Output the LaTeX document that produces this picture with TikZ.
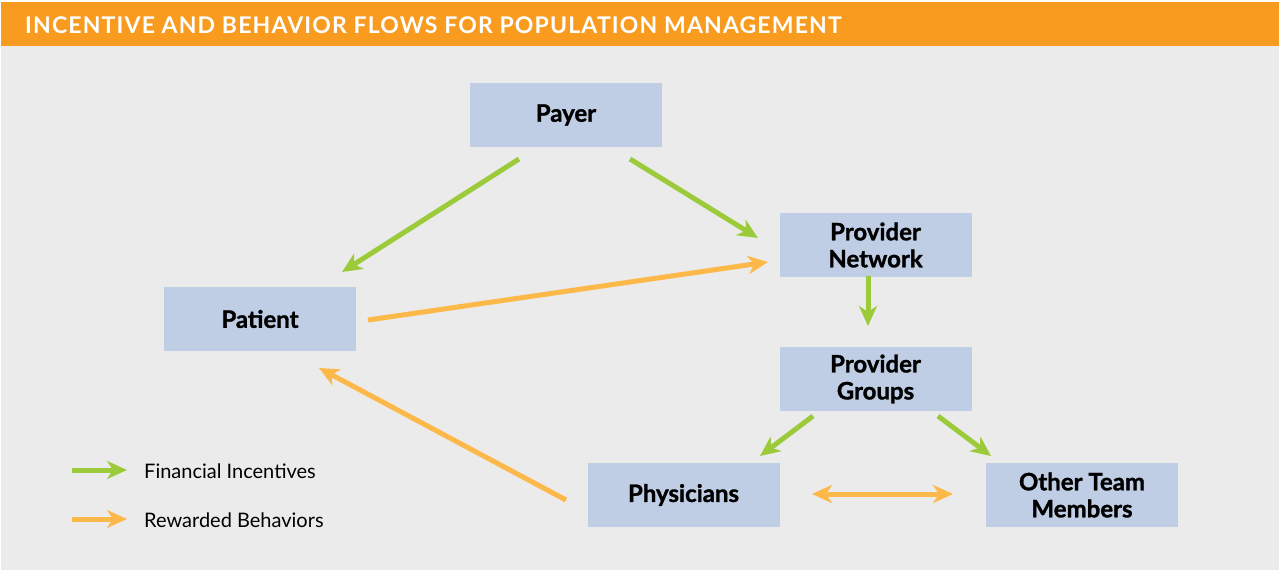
\documentclass[tikz,border=0pt]{standalone}
\usepackage{fontspec}
\setmainfont{Lato}
\newfontfamily\headfont[LetterSpace=5]{Lato}
\newfontfamily\boxfont[BoldFeatures={FakeBold=1.3}]{Lato}
\usetikzlibrary{arrows.meta}
\definecolor{bgray}{HTML}{EBEBEB}
\definecolor{hdr}{HTML}{F99B1E}
\definecolor{boxc}{HTML}{BFCEE4}
\definecolor{grn}{HTML}{9BCB3B}
\definecolor{org}{HTML}{FDB84A}
\tikzset{
  box/.style={rectangle, fill=boxc, minimum width=192pt, minimum height=64pt, inner sep=0pt,
    align=center, font=\boxfont\bfseries\fontsize{24}{27}\selectfont, text=black},
  tip/.style={-{Stealth[length=20pt,width=18pt,inset=6pt]}},
  fin/.style={tip, draw=grn, line width=5pt, fill=grn},
  rew/.style={tip, draw=org, line width=5pt, fill=org},
  legtxt/.style={anchor=west, inner sep=0pt, font=\fontsize{20}{22}\selectfont}
}
\begin{document}
\begin{tikzpicture}[x=1pt,y=-1pt]
\useasboundingbox (0,0) rectangle (1279,570);
\fill[white] (0,0) rectangle (1279,570);
\fill[bgray] (1,2) rectangle (1279,570);
\fill[hdr] (1,2) rectangle (1279,46);
\node[anchor=west, inner sep=0pt, text=white] (title) at (25,25)
  {\headfont\bfseries\fontsize{23}{24}\selectfont INCENTIVE AND BEHAVIOR FLOWS FOR POPULATION MANAGEMENT};

\node[box] (payer) at (566,115) {Payer};
\node[box] (network) at (875.5,245) {Provider\\Network};
\node[box] (patient) at (260,319) {Patient};
\node[box] (groups) at (875.5,379) {Provider\\Groups};
\node[box] (phys) at (683.5,495) {Physicians};
\node[box] (other) at (1082,495) {Other Team\\Members};

\coordinate (a1s) at (519,159); \coordinate (a1e) at (342,272);
\coordinate (a2s) at (630,159); \coordinate (a2e) at (758,238);
\coordinate (a3s) at (868,276); \coordinate (a3e) at (868,326);
\coordinate (a4s) at (813,416); \coordinate (a4e) at (760,456);
\coordinate (a5s) at (938,416); \coordinate (a5e) at (991,456);
\coordinate (b1s) at (368,320); \coordinate (b1e) at (768,262);
\coordinate (b2s) at (566,500); \coordinate (b2e) at (319,368);
\coordinate (b3s) at (812,494); \coordinate (b3e) at (953,494);

\draw[fin] (a1s) -- (a1e);
\draw[fin] (a2s) -- (a2e);
\draw[fin] (a3s) -- (a3e);
\draw[fin] (a4s) -- (a4e);
\draw[fin] (a5s) -- (a5e);
\draw[rew] (b1s) -- (b1e);
\draw[rew] (b2s) -- (b2e);
\draw[rew, {Stealth[length=20pt,width=18pt,inset=6pt]}-{Stealth[length=20pt,width=18pt,inset=6pt]}] (b3s) -- (b3e);

\coordinate (l1s) at (72,470); \coordinate (l1e) at (127,470);
\coordinate (l2s) at (72,519); \coordinate (l2e) at (127,519);
\draw[fin] (l1s) -- (l1e);
\draw[rew] (l2s) -- (l2e);
\node[legtxt] (lt1) at (144,471) {Financial Incentives};
\node[legtxt] (lt2) at (144,520) {Rewarded Behaviors};
\end{tikzpicture}
\end{document}
